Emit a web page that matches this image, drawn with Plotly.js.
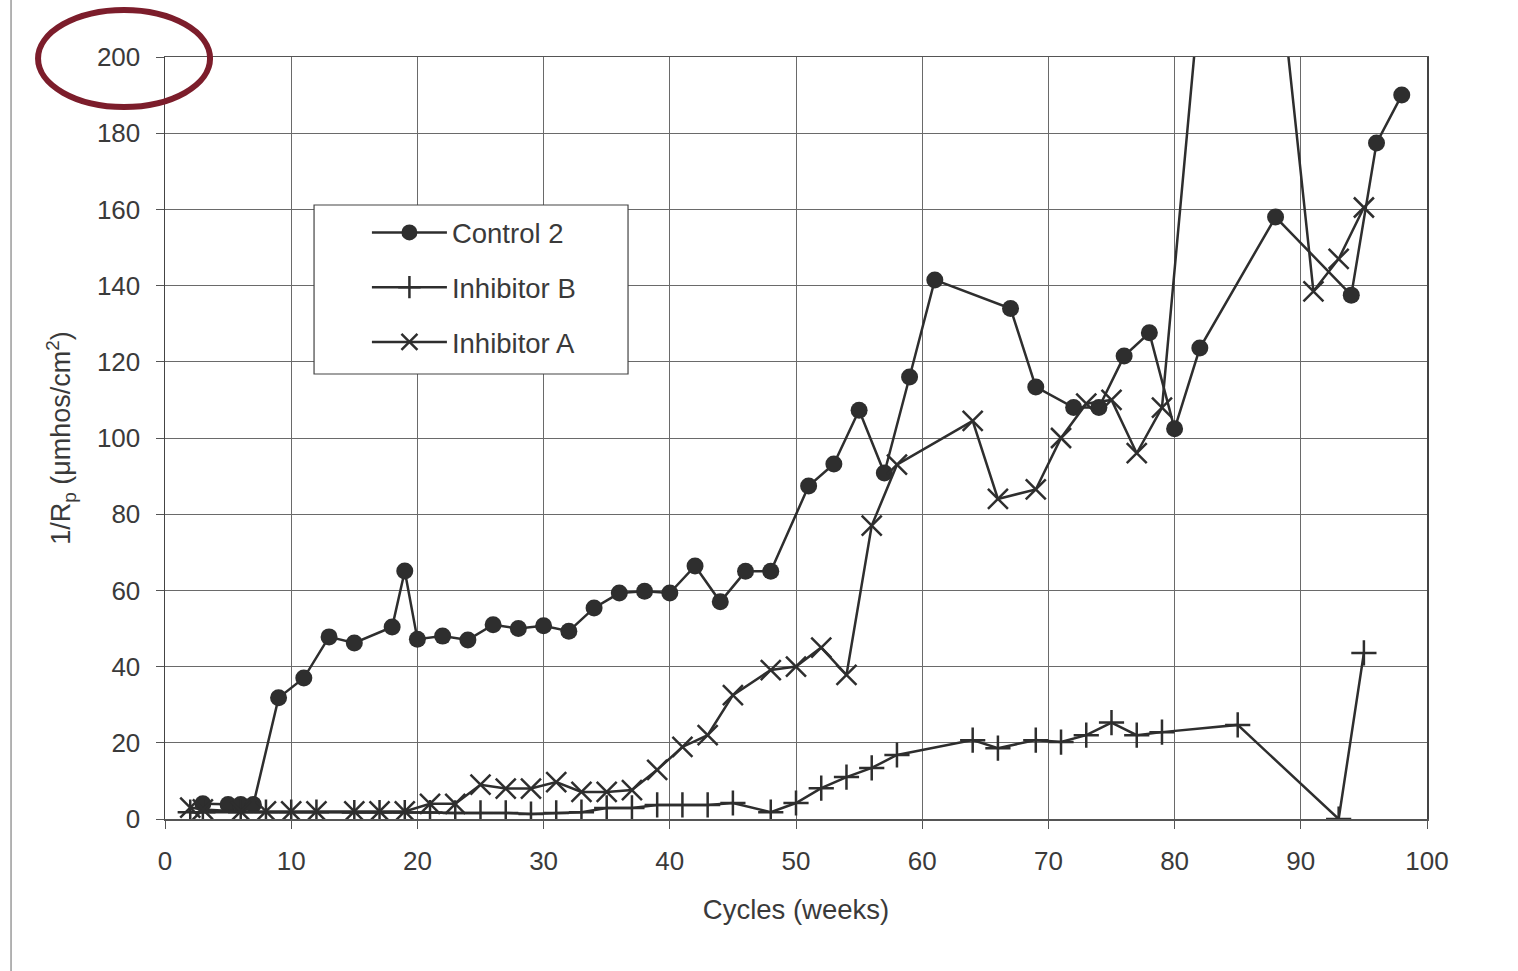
<!DOCTYPE html>
<html>
<head>
<meta charset="utf-8">
<script src="https://cdn.plot.ly/plotly-3.0.1.min.js"></script>
<style>
html,body{margin:0;padding:0;background:#fff;}
#chart{width:1518px;height:971px;}
</style>
</head>
<body>
<div id="chart"></div>
<script>
// ---- Data ----
const control2X = [3,5,6,7,9,11,13,15,18,19,20,22,24,26,28,30,32,34,36,38,40,42,44,46,48,51,53,55,57,59,61,67,69,72,74,76,78,80,82,88,94,96,98];
const control2Y = [4,3.8,3.8,3.8,31.8,37,47.8,46.2,50.4,65.1,47.2,48,47,51,50,50.7,49.3,55.4,59.3,59.8,59.3,66.4,57,65,65,87.4,93.2,107.3,90.8,116,141.5,134,113.4,108,108,121.5,127.6,102.4,123.6,158,137.5,177.4,190];

const inhibBX = [2,3,6,8,10,12,15,17,19,21,23,25,27,29,31,33,35,37,39,41,43,45,48,50,52,54,56,58,64,66,69,71,73,75,77,79,85,93,95];
const inhibBY = [1.8,1.8,1.8,1.8,1.8,1.8,1.7,1.7,1.7,1.7,1.6,1.6,1.6,1.3,1.6,1.8,2.9,2.9,3.7,3.7,3.7,4.2,1.8,4.2,8.1,11,13.4,16.8,20.7,18.6,20.7,20.2,22,25.3,22,22.8,24.7,0,43.6];

const inhibAX = [2,3,6,8,10,12,15,17,19,21,23,25,27,29,31,33,35,37,39,41,43,45,48,50,52,54,56,58,64,66,69,71,73,75,77,79,85,91,93,95];
const inhibAY = [3,2.5,2,2,2,2,2,2,2,4,4,9,8,8,9.7,7.1,7.1,7.6,12.9,18.9,22,32.5,39.1,40,45,37.8,77,93,104.5,84,86.5,100,109,110,96,108,325,138.5,147,160.5];

const xTicks = [0,10,20,30,40,50,60,70,80,90,100];
const yTicks = [0,20,40,60,80,100,120,140,160,180,200];

const seriesNames = ["Control 2","Inhibitor B","Inhibitor A"];

// ---- Styling ----
const ink = "#2e2e2e";
const textCol = "#3a3a3a";
const fontFam = "Liberation Sans, Arial, sans-serif";

const traces = [
  {
    x: control2X, y: control2Y, name: seriesNames[0], type: "scatter", mode: "lines+markers",
    legendgroup: "g1",
    line: {color: ink, width: 2.5},
    marker: {symbol: "circle", size: 17, color: ink, line: {width: 0}}
  },
  {
    x: inhibBX, y: inhibBY, name: seriesNames[1], type: "scatter", mode: "lines+markers",
    legendgroup: "g2",
    line: {color: ink, width: 2.5},
    marker: {symbol: "cross-thin", size: 18, color: ink, line: {color: ink, width: 2.5}}
  },
  {
    x: inhibAX, y: inhibAY, name: seriesNames[2], type: "scatter", mode: "lines+markers",
    legendgroup: "g3",
    line: {color: ink, width: 2.5},
    marker: {symbol: "x-thin", size: 20, color: ink, line: {color: ink, width: 2.5}}
  }
];

const layout = {
  width: 1518, height: 971,
  paper_bgcolor: "#ffffff", plot_bgcolor: "#ffffff",
  margin: {l: 165, r: 91, t: 57, b: 152, pad: 0},
  font: {family: fontFam, color: textCol, size: 26},
  showlegend: true,
  legend: {
    x: 0.1600, y: 0.8018, xanchor: "left", yanchor: "top",
    bgcolor: "rgba(0,0,0,0)", borderwidth: 0,
    font: {family: fontFam, size: 27.5, color: textCol},
    itemwidth: 75, tracegroupgap: 16, traceorder: "grouped"
  },
  xaxis: {
    range: [0, 100], tickvals: xTicks, ticktext: xTicks.map(String),
    showgrid: true, gridcolor: "#6a6a6a", gridwidth: 1,
    zeroline: false, showline: true, linecolor: "#555", linewidth: 1.5, mirror: true,
    ticks: "outside", ticklen: 8, tickcolor: "#555", tickwidth: 1,
    ticklabelstandoff: 10,
    tickfont: {family: fontFam, size: 26, color: textCol},
    title: {text: "Cycles (weeks)", font: {family: fontFam, size: 27.5, color: textCol}, standoff: 25},
    fixedrange: true
  },
  yaxis: {
    range: [0, 200], tickvals: yTicks, ticktext: yTicks.map(String),
    showgrid: true, gridcolor: "#6a6a6a", gridwidth: 1,
    zeroline: false, showline: true, linecolor: "#444", linewidth: 1.5, mirror: true,
    ticks: "outside", ticklen: 8, tickcolor: "#555", tickwidth: 1,
    ticklabelstandoff: 10,
    tickfont: {family: fontFam, size: 26, color: textCol},
    title: {text: "1/R<sub>p</sub> (μmhos/cm<sup>2</sup>)", font: {family: fontFam, size: 27, color: textCol}, standoff: 18},
    fixedrange: true
  },
  shapes: [
    // outer scan frame (top and left edges)
    {type: "line", xref: "paper", yref: "paper", x0: -0.1220, x1: 1.10, y0: 1.0800, y1: 1.0800,
     line: {color: "#9a9a9a", width: 1.5}},
    {type: "line", xref: "paper", yref: "paper", x0: -0.1220, x1: -0.1220, y0: -0.22, y1: 1.0800,
     line: {color: "#9a9a9a", width: 1.5}},
    // legend box
    {type: "rect", xref: "paper", yref: "paper", x0: 0.1181, x1: 0.3669, y0: 0.5840, y1: 0.8058,
     line: {color: "#444", width: 1.2}, fillcolor: "#ffffff", layer: "above"},
    // red ellipse around the "200" label
    {type: "circle", xref: "paper", yref: "paper", x0: -0.1006, x1: 0.0357, y0: 0.9344, y1: 1.0617,
     line: {color: "#7c1d2b", width: 6}, fillcolor: "rgba(0,0,0,0)", layer: "above"}
  ]
};

Plotly.newPlot("chart", traces, layout, {displayModeBar: false, staticPlot: true});
</script>
</body>
</html>
